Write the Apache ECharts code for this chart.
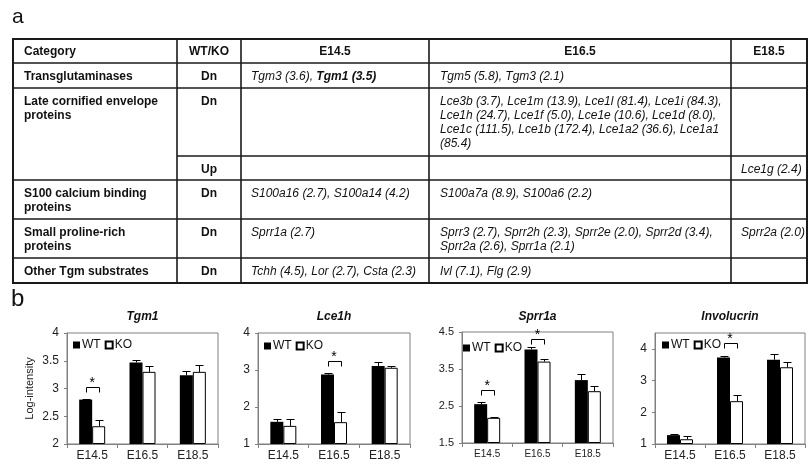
<!DOCTYPE html>
<html>
<head>
<meta charset="utf-8">
<title>Cornified envelope genes in WT and KO</title>
<script src="https://cdn.jsdelivr.net/npm/echarts@6/dist/echarts.min.js"></script>
<style>
html, body {margin: 0; padding: 0; background: #fff;}
#main {width: 810px; height: 464px;}
</style>
</head>
<body>
<div id="main"></div>
<script>
// ---- panel a : table ----
var tableHead = ['Category', 'WT/KO', 'E14.5', 'E16.5', 'E18.5'];
var tableCategory = ['Transglutaminases', 'Late cornified envelope\nproteins', 'S100 calcium binding\nproteins', 'Small proline-rich\nproteins', 'Other Tgm substrates'];
var tableRowCategory = [0, 1, 1, 2, 3, 4];
var tableDirection = ['Dn', 'Dn', 'Up', 'Dn', 'Dn', 'Dn'];
var tableE145 = ['Tgm3 (3.6), {b|Tgm1 (3.5)}', '', '', 'S100a16 (2.7), S100a14 (4.2)', 'Sprr1a (2.7)', 'Tchh (4.5), Lor (2.7), Csta (2.3)'];
var tableE165 = ['Tgm5 (5.8), Tgm3 (2.1)',
    'Lce3b (3.7), Lce1m (13.9), Lce1l (81.4), Lce1i (84.3),\nLce1h (24.7), Lce1f (5.0), Lce1e (10.6), Lce1d (8.0),\nLce1c (111.5), Lce1b (172.4), Lce1a2 (36.6), Lce1a1\n(85.4)',
    '', 'S100a7a (8.9), S100a6 (2.2)',
    'Sprr3 (2.7), Sprr2h (2.3), Sprr2e (2.0), Sprr2d (3.4),\nSprr2a (2.6), Sprr1a (2.1)',
    'Ivl (7.1), Flg (2.9)'];
var tableE185 = ['', '', 'Lce1g (2.4)', '', 'Sprr2a (2.0)', ''];

// ---- panel b : bar charts ----
var stages = ['E14.5', 'E16.5', 'E18.5'];

var tgm1WT = [2.80, 3.47, 3.24];
var tgm1WTErr = [0.01, 0.04, 0.08];
var tgm1KO = [2.32, 3.30, 3.30];
var tgm1KOErr = [0.11, 0.10, 0.12];
var tgm1Sig = [[0, 3.03]];
var tgm1Range = [2, 4, 0.5];

var lce1hWT = [1.60, 2.88, 3.11];
var lce1hWTErr = [0.08, 0.05, 0.10];
var lce1hKO = [1.49, 1.59, 3.06];
var lce1hKOErr = [0.19, 0.27, 0.06];
var lce1hSig = [[1, 3.24]];
var lce1hRange = [1, 4, 1];

var sprr1aWT = [2.55, 4.03, 3.20];
var sprr1aWTErr = [0.07, 0.06, 0.17];
var sprr1aKO = [2.18, 3.70, 2.90];
var sprr1aKOErr = [0.01, 0.08, 0.14];
var sprr1aSig = [[0, 2.93], [1, 4.30]];
var sprr1aRange = [1.5, 4.5, 1];

var invWT = [1.28, 3.73, 3.66];
var invWTErr = [0.02, 0.03, 0.19];
var invKO = [1.15, 2.35, 3.42];
var invKOErr = [0.10, 0.18, 0.17];
var invSig = [[1, 4.2]];
var invRange = [1, 4.5, 1];

var font = '"Liberation Sans", Arial, sans-serif';
var BAR_W = 13;
var TABLE_FONT = 12;

var dom = document.getElementById('main');
var myChart = echarts.init(dom, null, {renderer: 'canvas'});

// table layout
var colX = [13, 177, 241, 429, 731, 807];
var rowY = [39, 63, 88, 156, 180, 219, 258, 283];
var graphic = [];

function addLine(x1, y1, x2, y2, w) {
    graphic.push({type: 'line', silent: true,
        shape: {x1: x1, y1: y1, x2: x2, y2: y2},
        style: {stroke: '#1a1a1a', lineWidth: w}});
}
function addText(x, y, text, align, vAlign, weight, fstyle, size) {
    graphic.push({type: 'text', silent: true, x: x, y: y,
        style: {text: text, fill: '#111', fontFamily: font, fontSize: size || TABLE_FONT,
            fontWeight: weight, fontStyle: fstyle, lineHeight: 14,
            align: align, textAlign: align, verticalAlign: vAlign, textVerticalAlign: vAlign,
            rich: {b: {fontWeight: 'bold', fontStyle: 'italic', fontFamily: font, fontSize: size || TABLE_FONT, lineHeight: 14, fill: '#111'}}}});
}

// grid lines of the table
for (var c = 1; c < colX.length - 1; c++) {
    addLine(colX[c], rowY[0], colX[c], rowY[rowY.length - 1], 1.6);
}
for (var r = 1; r < rowY.length - 1; r++) {
    addLine(r === 3 ? colX[1] : colX[0], rowY[r], colX[5], rowY[r], 1.6);
}
graphic.push({type: 'rect', silent: true,
    shape: {x: colX[0], y: rowY[0], width: colX[5] - colX[0], height: rowY[7] - rowY[0]},
    style: {fill: null, stroke: '#1a1a1a', lineWidth: 2}});

// header
var headY = (rowY[0] + rowY[1]) / 2 + 1;
addText(colX[0] + 11, headY, tableHead[0], 'left', 'middle', 'bold', 'normal');
for (var h = 1; h < tableHead.length; h++) {
    addText((colX[h] + colX[h + 1]) / 2, headY, tableHead[h], 'center', 'middle', 'bold', 'normal');
}
// body
for (var i = 0; i < tableDirection.length; i++) {
    var cellTop = rowY[i + 1] + 6.5;
    if (i === 0 || tableRowCategory[i] !== tableRowCategory[i - 1]) {
        addText(colX[0] + 11, cellTop, tableCategory[tableRowCategory[i]], 'left', 'top', 'bold', 'normal');
    }
    addText((colX[1] + colX[2]) / 2, cellTop, tableDirection[i], 'center', 'top', 'bold', 'normal');
    if (tableE145[i]) addText(colX[2] + 10, cellTop, tableE145[i], 'left', 'top', 'normal', 'italic');
    if (tableE165[i]) addText(colX[3] + 11, cellTop, tableE165[i], 'left', 'top', 'normal', 'italic');
    if (tableE185[i]) addText(colX[4] + 10, cellTop, tableE185[i], 'left', 'top', 'normal', 'italic');
}

// panel letters
addText(12, 17, 'a', 'left', 'middle', 'normal', 'normal', 21);
addText(11, 299, 'b', 'left', 'middle', 'normal', 'normal', 24);

function errRender(params, api) {
    var cat = api.value(0), val = api.value(1), err = api.value(2), side = api.value(3);
    var base = api.coord([cat, val]);
    var topPt = api.coord([cat, val + err]);
    var x = Math.round(base[0] + side * BAR_W / 2) + 0.5;
    var yt = Math.round(topPt[1]) + 0.5;
    return {type: 'group', children: [
        {type: 'line', shape: {x1: x, y1: base[1], x2: x, y2: yt}, style: {stroke: '#000', lineWidth: 1}},
        {type: 'line', shape: {x1: x - 4, y1: yt, x2: x + 4, y2: yt}, style: {stroke: '#000', lineWidth: 1}}
    ]};
}

function sigRender(params, api) {
    var p = api.coord([api.value(0), api.value(1)]);
    var x1 = Math.round(p[0] - BAR_W / 2) + 0.5, x2 = Math.round(p[0] + BAR_W / 2) + 0.5;
    var y = Math.round(p[1]) + 0.5;
    return {type: 'group', children: [
        {type: 'polyline', shape: {points: [[x1, y + 5], [x1, y], [x2, y], [x2, y + 5]]},
            style: {stroke: '#000', lineWidth: 1, fill: null}},
        {type: 'text', x: p[0], y: y - 4,
            style: {text: '*', fill: '#000', fontFamily: font, fontSize: 14,
                align: 'center', textAlign: 'center', verticalAlign: 'middle', textVerticalAlign: 'middle'}}
    ]};
}

var grids = [], xAxes = [], yAxes = [], titles = [], legends = [], series = [];

function panel(idx, name, wt, wtErr, ko, koErr, sig, range, box, legendPos, xFont, yFont) {
    grids.push({left: box[0], top: box[1], width: box[2], height: box[3],
        show: true, borderColor: '#808080', borderWidth: 1, backgroundColor: 'transparent'});
    titles.push({text: name, left: box[0] + box[2] / 2, top: 311, textAlign: 'center', padding: 0,
        textStyle: {fontFamily: font, fontSize: 12, fontWeight: 'bold', fontStyle: 'italic', color: '#111'}});
    legends.push({data: ['WT', 'KO'], left: legendPos[0], top: legendPos[1], padding: 0,
        icon: 'rect', itemWidth: 7, itemHeight: 7, itemGap: 4, selectedMode: false,
        textStyle: {fontFamily: font, fontSize: 12, color: '#111', padding: [0, 0, 0, -3]}});
    xAxes.push({gridIndex: idx, type: 'category', data: stages,
        axisLine: {lineStyle: {color: '#808080'}},
        axisTick: {show: true, length: 4, lineStyle: {color: '#808080'}},
        axisLabel: {fontFamily: font, fontSize: xFont, color: '#222', margin: 6}});
    yAxes.push({gridIndex: idx, type: 'value', min: range[0], max: range[1], interval: range[2],
        startValue: range[0],
        name: idx === 0 ? 'Log-intensity' : '', nameLocation: 'middle', nameGap: 32,
        nameTextStyle: {fontFamily: font, fontSize: 11, color: '#222'},
        axisLine: {show: true, lineStyle: {color: '#808080'}},
        axisTick: {show: true, length: 3, lineStyle: {color: '#808080'}},
        splitLine: {show: false},
        axisLabel: {fontFamily: font, fontSize: yFont, color: '#222', margin: 8, showMaxLabel: range[1] % range[2] === 0 || idx === 2}});
    series.push({name: 'WT', type: 'bar', xAxisIndex: idx, yAxisIndex: idx, data: wt,
        barWidth: BAR_W, barGap: '0%', itemStyle: {color: '#000'}});
    series.push({name: 'KO', type: 'bar', xAxisIndex: idx, yAxisIndex: idx, data: ko,
        barWidth: BAR_W, barGap: '0%', itemStyle: {color: '#fff', borderColor: '#000', borderWidth: 1}});
    var errData = [];
    for (var k = 0; k < wt.length; k++) {
        errData.push([k, wt[k], wtErr[k], -1]);
        errData.push([k, ko[k], koErr[k], 1]);
    }
    series.push({name: name + ' error', type: 'custom', xAxisIndex: idx, yAxisIndex: idx,
        renderItem: errRender, data: errData, z: 5, silent: true, encode: {x: 0, y: 1}});
    series.push({name: name + ' significance', type: 'custom', xAxisIndex: idx, yAxisIndex: idx,
        renderItem: sigRender, data: sig, z: 5, silent: true, encode: {x: 0, y: 1}, clip: false});
}

panel(0, 'Tgm1', tgm1WT, tgm1WTErr, tgm1KO, tgm1KOErr, tgm1Sig, tgm1Range, [67, 333, 151, 111], [73, 339], 12, 12);
panel(1, 'Lce1h', lce1hWT, lce1hWTErr, lce1hKO, lce1hKOErr, lce1hSig, lce1hRange, [258, 333, 152, 111], [264, 340], 12, 12);
panel(2, 'Sprr1a', sprr1aWT, sprr1aWTErr, sprr1aKO, sprr1aKOErr, sprr1aSig, sprr1aRange, [462, 332, 151, 111], [463, 342], 10, 11);
panel(3, 'Involucrin', invWT, invWTErr, invKO, invKOErr, invSig, invRange, [655, 333, 150, 111], [662, 339], 12, 12);

var option = {
    animation: false,
    backgroundColor: '#fff',
    title: titles,
    legend: legends,
    grid: grids,
    xAxis: xAxes,
    yAxis: yAxes,
    series: series,
    graphic: graphic
};
if (option && typeof option === "object") {
    myChart.setOption(option, true);
}
</script>
</body>
</html>
